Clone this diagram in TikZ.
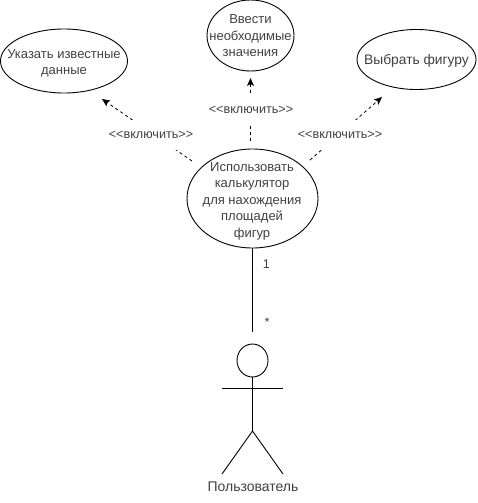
\documentclass[tikz,border=0pt]{standalone}
\usepackage{fontspec}
\setmainfont{Liberation Sans}
\usetikzlibrary{shapes.geometric,arrows.meta}
\tikzset{
  x=1pt,y=-1pt,
  usecase/.style={draw,ellipse,line width=0.9pt,inner sep=0pt},
  casetext/.style={inner sep=0pt,align=center,font=\fontsize{13}{16.5}\selectfont,text=black!75},
  dep/.style={line width=0.8pt,dash pattern=on 3pt off 3pt,-{Stealth[length=8pt,width=7pt,inset=2pt]}},
  lab/.style={fill=white,inner sep=0pt,minimum height=30pt,text width=86pt,align=center,font=\fontsize{12.6}{14}\selectfont,text=black!75},
  assoc/.style={line width=0.9pt},
  mult/.style={inner sep=0pt,font=\fontsize{12.6}{14}\selectfont,text=black!75},
  person/.style={line width=0.9pt}
}
\begin{document}
\begin{tikzpicture}
\useasboundingbox (0,0) rectangle (477,503);
\node[usecase,minimum width=127pt,minimum height=64pt,label={[casetext,yshift=-2.5pt]center:{Указать известные\\данные}}] (known) at (64,61) {};
\node[usecase,minimum width=87pt,minimum height=71pt,label={[casetext,yshift=-0.5pt]center:{Ввести\\необходимые\\значения}}] (enter) at (250.5,35.5) {};
\node[usecase,minimum width=119pt,minimum height=60pt,label={[casetext,font=\fontsize{13.8}{16.5}\selectfont,yshift=-1pt]center:{Выбрать фигуру}}] (pick) at (416.5,59.5) {};
\node[usecase,minimum width=131pt,minimum height=99pt,label={[casetext,yshift=-2.5pt,xshift=-0.5pt]center:{Использовать\\калькулятор\\для нахождения\\площадей\\фигур}}] (main) at (252.5,198.5) {};
\coordinate (tailL) at (192,161);
\coordinate (tipL) at (102,99);
\coordinate (tailM) at (250.5,141);
\coordinate (tipM) at (250.5,78);
\coordinate (tailR) at (310,160);
\coordinate (tipR) at (382,97);
\draw[dep] (tailL) -- (tipL);
\draw[dep] (tailM) -- (tipM);
\draw[dep] (tailR) -- (tipR);
\node[lab] (labL) at (151,135) {<{}<включить>{}>};
\node[lab] (labM) at (251,110) {<{}<включить>{}>};
\node[lab] (labR) at (340,135) {<{}<включить>{}>};
% actor
\node[draw,ellipse,person,minimum width=31pt,minimum height=33pt,inner sep=0pt] (head) at (252.5,360.5) {};
\coordinate (hip) at (252.5,431);
\coordinate (armL) at (222,388);
\coordinate (armR) at (283,388);
\coordinate (footL) at (222,474);
\coordinate (footR) at (283,474);
\coordinate (actorTop) at (252.5,332);
\draw[person] (head.south) -- (hip);
\draw[person] (armL) -- (armR);
\draw[person] (footL) -- (hip) -- (footR);
\draw[assoc] (main.south) -- (actorTop);
\node[mult] (one) at (266.5,264) {1};
\node[mult] (many) at (267,322) {*};
\node[inner sep=0pt,font=\fontsize{14}{16}\selectfont,text=black!75] (actor) at (253,487) {Пользователь};
\end{tikzpicture}
\end{document}
